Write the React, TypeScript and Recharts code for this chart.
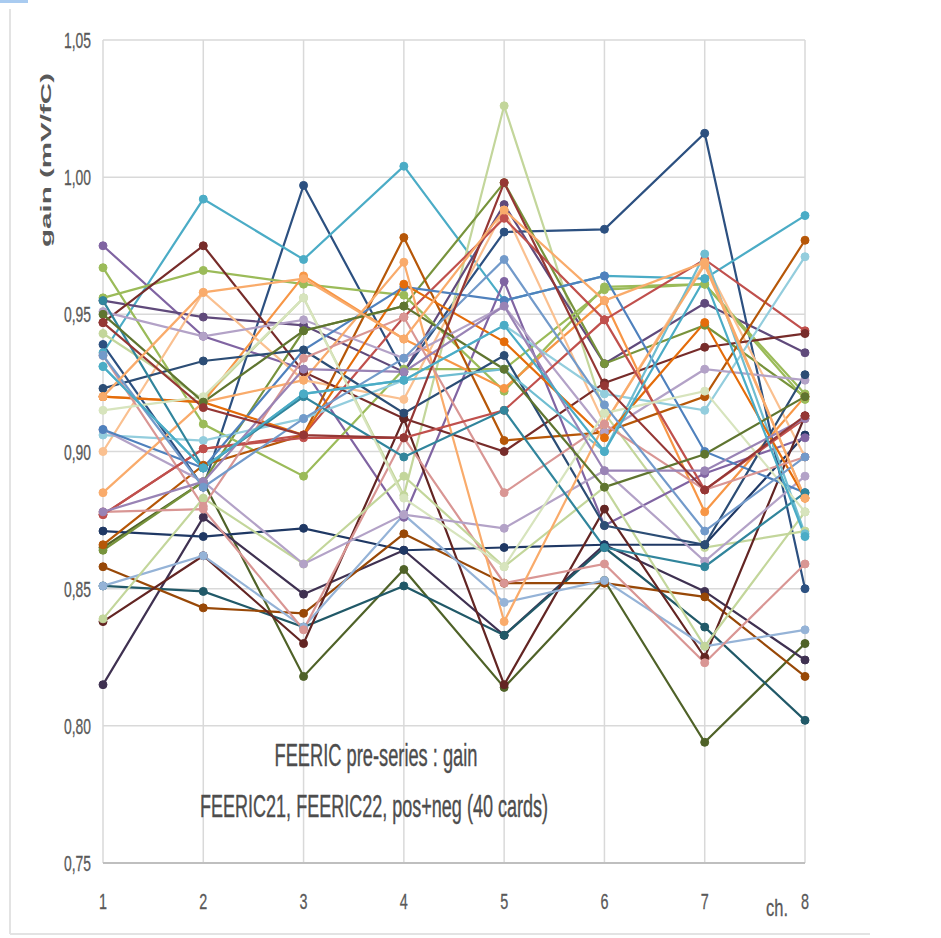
import React from 'react';
import { LineChart, Line, XAxis, YAxis, CartesianGrid } from 'recharts';

const channels = ['1', '2', '3', '4', '5', '6', '7', '8'];
const yTicks = [0.75, 0.8, 0.85, 0.9, 0.95, 1.0, 1.05];

const s01 = [0.939, 0.887, 0.997, 0.929, 0.980, 0.981, 1.016, 0.850];
const s02 = [0.936, 0.992, 0.970, 1.004, 0.955, 0.964, 0.963, 0.986];
const s03 = [0.943, 0.919, 0.956, 0.884, 1.026, 0.914, 0.865, 0.871];
const s04 = [0.865, 0.889, 0.818, 0.857, 0.814, 0.853, 0.794, 0.830];
const s05 = [0.815, 0.876, 0.848, 0.864, 0.833, 0.866, 0.849, 0.824];
const s06 = [0.851, 0.849, 0.836, 0.851, 0.833, 0.865, 0.836, 0.802];
const s07 = [0.871, 0.869, 0.872, 0.864, 0.865, 0.866, 0.866, 0.906];
const s08 = [0.858, 0.843, 0.841, 0.870, 0.852, 0.852, 0.847, 0.818];
const s09 = [0.975, 0.942, 0.930, 0.876, 0.962, 0.873, 0.892, 0.905];
const s10 = [0.955, 0.949, 0.946, 0.929, 0.990, 0.932, 0.954, 0.936];
const s11 = [0.864, 0.889, 0.944, 0.953, 0.998, 0.932, 0.946, 0.920];
const s12 = [0.967, 0.910, 0.891, 0.930, 0.930, 0.959, 0.961, 0.919];
const s13 = [0.956, 0.966, 0.961, 0.957, 0.922, 0.960, 0.961, 0.921];
const s14 = [0.920, 0.918, 0.964, 0.941, 0.923, 0.955, 0.878, 0.920];
const s15 = [0.900, 0.958, 0.926, 0.919, 0.988, 0.910, 0.969, 0.898];
const s16 = [0.877, 0.901, 0.906, 0.949, 0.985, 0.948, 0.970, 0.944];
const s17 = [0.947, 0.975, 0.929, 0.912, 0.900, 0.925, 0.938, 0.943];
const s18 = [0.838, 0.862, 0.830, 0.912, 0.815, 0.879, 0.825, 0.913];
const s19 = [0.866, 0.895, 0.906, 0.978, 0.904, 0.907, 0.920, 0.977];
const s20 = [0.906, 0.904, 0.912, 0.926, 0.946, 0.921, 0.915, 0.971];
const s21 = [0.851, 0.862, 0.836, 0.877, 0.845, 0.853, 0.829, 0.835];
const s22 = [0.878, 0.879, 0.835, 0.905, 0.852, 0.859, 0.823, 0.859];
const s23 = [0.839, 0.883, 0.859, 0.891, 0.858, 0.887, 0.829, 0.878];
const s24 = [0.908, 0.889, 0.859, 0.877, 0.872, 0.893, 0.860, 0.891];
const s25 = [0.951, 0.942, 0.948, 0.934, 0.953, 0.907, 0.930, 0.926];
const s26 = [0.908, 0.894, 0.937, 0.960, 0.955, 0.964, 0.900, 0.885];
const s27 = [0.923, 0.933, 0.937, 0.914, 0.935, 0.873, 0.866, 0.928];
const s28 = [0.931, 0.894, 0.921, 0.926, 0.930, 0.900, 0.972, 0.870];
const s29 = [0.920, 0.918, 0.906, 0.961, 0.940, 0.905, 0.947, 0.883];
const s30 = [0.885, 0.918, 0.926, 0.969, 0.838, 0.910, 0.968, 0.883];
const s31 = [0.935, 0.880, 0.934, 0.949, 0.885, 0.910, 0.886, 0.898];
const s32 = [0.877, 0.901, 0.905, 0.905, 0.915, 0.948, 0.886, 0.912];
const s33 = [0.955, 0.894, 0.920, 0.898, 0.915, 0.865, 0.858, 0.885];
const s34 = [0.915, 0.920, 0.956, 0.883, 0.858, 0.914, 0.922, 0.878];
const s35 = [0.950, 0.918, 0.944, 0.953, 0.930, 0.887, 0.899, 0.920];
const s36 = [0.878, 0.889, 0.930, 0.929, 0.953, 0.893, 0.893, 0.912];
const s37 = [0.935, 0.887, 0.912, 0.934, 0.970, 0.917, 0.871, 0.898];
const s38 = [0.947, 0.916, 0.906, 0.905, 0.998, 0.924, 0.886, 0.913];
const s39 = [0.920, 0.958, 0.963, 0.941, 0.988, 0.955, 0.969, 0.883];
const s40 = [0.931, 0.894, 0.921, 0.926, 0.946, 0.900, 0.963, 0.869];

const seriesValues = [
  s01, s02, s03, s04, s05, s06, s07, s08, s09, s10,
  s11, s12, s13, s14, s15, s16, s17, s18, s19, s20,
  s21, s22, s23, s24, s25, s26, s27, s28, s29, s30,
  s31, s32, s33, s34, s35, s36, s37, s38, s39, s40,
];

const seriesColors = [
  '#2C5080', '#4BACC6', '#C3D69B', '#4F6228', '#3F3151', '#215968', '#1F3864', '#984807', '#8064A2', '#604A7B',
  '#77933C', '#9BBB59', '#9BBB59', '#F79646', '#FAC090', '#C0504D', '#772C2A', '#632523', '#B65708', '#93CDDD',
  '#95B3D7', '#D99694', '#C3D69B', '#B3A2C7', '#B3A2C7', '#4F81BD', '#2C4D75', '#6FBDD1', '#E46C0A', '#F9AB6B',
  '#D99694', '#C0504D', '#31859C', '#D7E4BD', '#5F7530', '#9983B5', '#729ACA', '#953735', '#F9AB6B', '#4BACC6',
];

const data = channels.map((ch, i) => {
  const row: Record<string, any> = { ch };
  seriesValues.forEach((vals, k) => {
    row['s' + (k + 1)] = vals[i];
  });
  return row;
});

const FONT = '"Liberation Sans", Arial, sans-serif';
const TXT = '#595959';

const YTick = (props: any) => {
  const { x, y, payload } = props;
  const label = Number(payload.value).toFixed(2).replace('.', ',');
  return (
    <text x={x - 4} y={y} dy={8} textAnchor="end" fontSize={22} fill={TXT} fontFamily={FONT}
      stroke={TXT} strokeWidth={0.3}
      textLength={27} lengthAdjust="spacingAndGlyphs">{label}</text>
  );
};

const XTick = (props: any) => {
  const { x, y, payload } = props;
  return (
    <text x={x} y={y} dy={38} textAnchor="middle" fontSize={22} fill={TXT} fontFamily={FONT}
      stroke={TXT} strokeWidth={0.3}
      textLength={8} lengthAdjust="spacingAndGlyphs">{payload.value}</text>
  );
};

export default function App() {
  return (
    <div style={{ position: 'absolute', left: 0, top: 0, width: 941, height: 938, background: '#fff' }}>
      <LineChart width={941} height={938} data={data} margin={{ top: 40, right: 136, bottom: 45, left: 0 }}>
        <CartesianGrid stroke="#D9D9D9" strokeWidth={1.5} />
        <XAxis dataKey="ch" height={30} axisLine={{ stroke: '#BFBFBF', strokeWidth: 2 }} tickLine={false}
          tick={<XTick />} interval={0} />
        <YAxis type="number" domain={[0.75, 1.05]} ticks={yTicks} width={103} axisLine={false}
          tickLine={false} tick={<YTick />} allowDataOverflow />
        {seriesValues.map((_, k) => (
          <Line key={k} type="linear" dataKey={'s' + (k + 1)} stroke={seriesColors[k]} strokeWidth={2.2}
            dot={{ r: 4, fill: seriesColors[k], stroke: seriesColors[k], strokeWidth: 1 }}
            isAnimationActive={false} />
        ))}
      </LineChart>
      <svg width={941} height={938} style={{ position: 'absolute', left: 0, top: 0, pointerEvents: 'none' }}>
        <rect x={0} y={0} width={28} height={3} fill="#A9CBF0" />
        <line x1={10} y1={9} x2={10} y2={934} stroke="#E3E3E3" strokeWidth={2} />
        <line x1={10} y1={934} x2={870} y2={934} stroke="#E3E3E3" strokeWidth={2} />
        <text transform="translate(51,160) rotate(-90)" textAnchor="middle" fontSize={15} fontWeight="bold"
          fill={TXT} fontFamily={FONT} textLength={174} lengthAdjust="spacingAndGlyphs">gain (mV/fC)</text>
        <text x={777} y={916} textAnchor="middle" fontSize={24} fill={TXT} fontFamily={FONT}
          stroke={TXT} strokeWidth={0.3}
          textLength={22} lengthAdjust="spacingAndGlyphs">ch.</text>
        <text x={376} y={766} textAnchor="middle" fontSize={31} fill="#4D4D4D" fontFamily={FONT}
          stroke="#4D4D4D" strokeWidth={0.4}
          textLength={203} lengthAdjust="spacingAndGlyphs">FEERIC pre-series : gain</text>
        <text x={374} y={817} textAnchor="middle" fontSize={31} fill="#4D4D4D" fontFamily={FONT}
          stroke="#4D4D4D" strokeWidth={0.4}
          textLength={348} lengthAdjust="spacingAndGlyphs">FEERIC21, FEERIC22, pos+neg (40 cards)</text>
      </svg>
    </div>
  );
}
